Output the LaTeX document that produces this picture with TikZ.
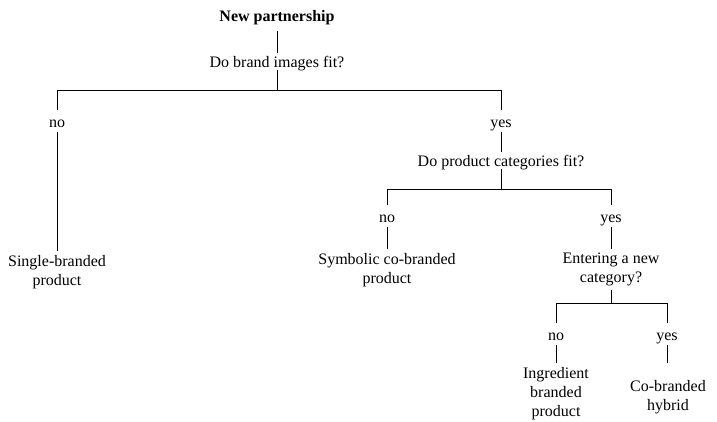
\documentclass[tikz,border=0pt]{standalone}
\usepackage{fontspec}
\setmainfont{Liberation Serif}
\begin{document}
\begin{tikzpicture}[x=1pt,y=-1pt,
  every node/.style={inner sep=0pt, font=\fontsize{16}{19}\selectfont},
  title/.style={font=\fontsize{16}{19}\selectfont\bfseries, anchor=base, outer sep=7pt},
  question/.style={anchor=base, text depth=0pt, outer sep=3pt},
  answer/.style={anchor=base, text height=12pt, text depth=0pt, outer sep=5pt},
  outcome/.style={anchor=north, align=center, outer sep=4pt},
  branch/.style={line width=0.8pt}]
\useasboundingbox (0,0) rectangle (717,421);

% heights of the three horizontal bars
\coordinate (bar1) at (0,90);
\coordinate (bar2) at (0,189);
\coordinate (bar3) at (0,303);

% level 0 and 1
\node[title]    (root)     at (277,21)  {New partnership};
\node[question] (q1)       at (277,67)  {Do brand images fit?};
\node[answer]   (n1)       at (57,127)  {no};
\node[answer]   (y1)       at (501,127) {yes};
\node[outcome]  (single)   at (57,251)  {Single-branded\\product};

% level 2
\node[question] (q2)       at (501,166) {Do product categories fit?};
\node[answer]   (n2)       at (387,222) {no};
\node[answer]   (y2)       at (611,222) {yes};
\node[outcome]  (symbolic) at (387,249) {Symbolic co-branded\\product};
\node[outcome]  (q3)       at (611,249) {Entering a new\\category?};

% level 3
\node[answer]   (n3)       at (556,340) {no};
\node[answer]   (y3)       at (667,340) {yes};
\node[outcome]  (ingr)     at (556,363) {Ingredient\\branded\\product};
\node[outcome]  (hybrid)   at (668,376) {Co-branded\\hybrid};

% connectors
\draw[branch] (root.south) -- (q1.north);
\draw[branch] (q1.south) -- (q1.south |- bar1);
\draw[branch] (n1.north) -- (n1.north |- bar1) -- (y1.north |- bar1) -- (y1.north);
\draw[branch] (n1.south) -- (single.north);
\draw[branch] (y1.south) -- (q2.north);

\draw[branch] (q2.south) -- (q2.south |- bar2);
\draw[branch] (n2.north) -- (n2.north |- bar2) -- (y2.north |- bar2) -- (y2.north);
\draw[branch] (n2.south) -- (symbolic.north);
\draw[branch] (y2.south) -- (q3.north);

\draw[branch] (q3.south) -- (q3.south |- bar3);
\draw[branch] (n3.north) -- (n3.north |- bar3) -- (y3.north |- bar3) -- (y3.north);
\draw[branch] (n3.south) -- (ingr.north);
\draw[branch] (y3.south) -- (y3.south |- ingr.north);
\end{tikzpicture}
\end{document}
